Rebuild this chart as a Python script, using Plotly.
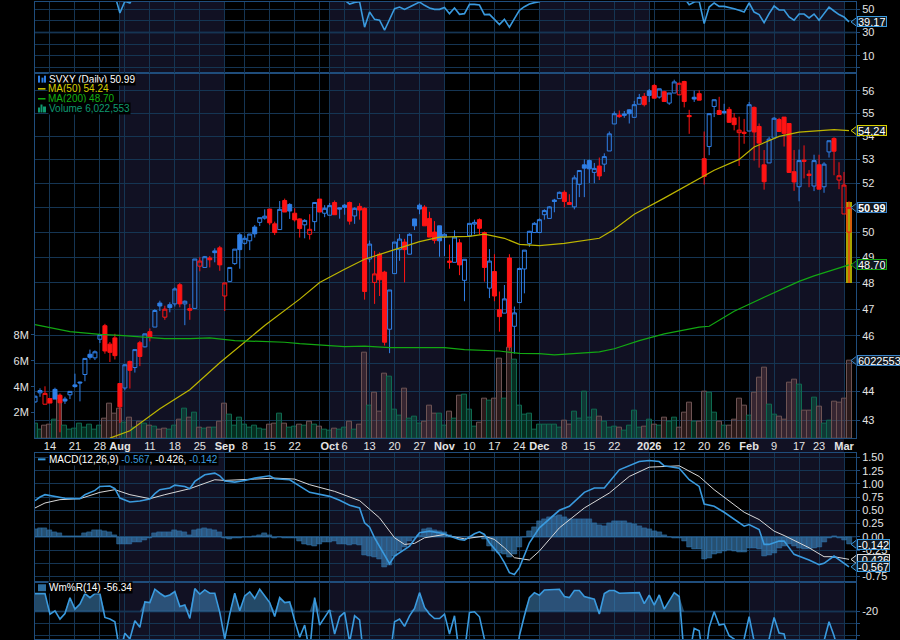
import numpy as np
import plotly.graph_objects as go

# bar index 0 = 9 Jul 2025, last bar = 3 Mar 2026
opens = [
    43.63, 43.95, 43.55, 43.75, 44.07, 43.86, 43.73, 43.88, 44.23, 44.33,
    44.60, 45.33, 45.20, 45.88, 46.38, 45.70, 45.93, 44.28, 44.12, 45.07,
    44.85, 45.75, 45.60, 46.16, 46.33, 47.23, 46.70, 47.17, 47.20, 47.93,
    47.20, 47.02, 47.03, 48.65, 48.60, 48.97, 49.25, 49.37, 47.50, 48.06,
    48.75, 49.89, 49.55, 49.65, 50.20, 50.39, 50.56, 50.93, 50.33, 50.10,
    51.28, 51.12, 50.76, 50.53, 50.29, 49.91, 50.42, 51.34, 50.76, 50.68,
    51.20, 50.98, 51.09, 51.20, 50.65, 51.04, 50.96, 48.93, 48.02, 49.12,
    48.42, 46.25, 48.36, 49.30, 49.60, 49.12, 50.53, 51.09, 51.01, 50.55,
    50.00, 50.25, 49.80, 48.85, 48.80, 49.57, 48.10, 49.85, 50.32, 50.50,
    49.98, 47.80, 48.44, 46.98, 46.85, 48.97, 46.36, 47.25, 48.54, 49.54,
    49.98, 49.98, 50.70, 50.55, 51.30, 51.36, 51.62, 51.20, 51.02, 51.95,
    52.77, 52.95, 52.45, 52.72, 52.80, 53.36, 54.53, 54.92, 54.97, 55.15,
    54.82, 55.40, 55.75, 56.00, 56.24, 55.72, 55.96, 55.45, 55.90, 55.82,
    56.42, 54.90, 55.71, 55.87, 53.03, 53.55, 55.30, 55.12, 55.08, 55.17,
    54.79, 54.15, 54.17, 54.22, 55.26, 54.42, 52.77, 52.85, 53.92, 54.72,
    54.83, 54.55, 52.48, 51.85, 52.97, 52.38, 51.88, 52.77, 51.85, 53.32,
    53.90, 52.13, 50.73, 50.00,
]
highs = [
    43.85, 44.11, 44.18, 43.75, 44.13, 43.93, 43.81, 44.00, 44.63, 44.35,
    45.18, 45.50, 45.47, 46.08, 46.45, 45.78, 46.08, 44.28, 44.97, 45.10,
    45.50, 45.82, 46.08, 46.28, 47.00, 47.32, 47.13, 47.26, 47.83, 48.00,
    47.33, 47.20, 48.93, 49.00, 49.05, 49.05, 49.35, 49.45, 48.00, 48.60,
    49.32, 49.96, 49.85, 49.92, 50.28, 50.58, 50.92, 50.93, 50.42, 51.26,
    51.36, 51.17, 50.96, 50.55, 50.52, 50.72, 51.20, 51.34, 51.09, 51.18,
    51.28, 51.00, 51.14, 51.24, 51.00, 51.17, 51.00, 49.66, 49.25, 49.19,
    48.47, 47.73, 49.60, 49.92, 49.73, 49.95, 50.53, 51.16, 51.09, 50.82,
    50.44, 50.25, 49.95, 49.50, 50.07, 49.72, 48.92, 50.35, 50.50, 50.55,
    50.02, 49.32, 49.12, 47.67, 47.92, 49.12, 47.10, 48.60, 49.28, 50.05,
    50.40, 50.55, 50.92, 51.05, 51.35, 51.65, 51.70, 51.54, 52.33, 52.55,
    53.00, 53.00, 52.85, 53.08, 53.26, 54.20, 55.08, 55.12, 55.10, 55.17,
    55.55, 55.86, 55.90, 56.08, 56.30, 56.09, 56.00, 55.90, 56.50, 56.36,
    56.45, 55.15, 56.00, 56.02, 54.20, 54.98, 55.60, 55.73, 55.42, 55.28,
    55.00, 54.85, 54.75, 55.50, 55.30, 54.55, 53.40, 53.97, 54.83, 54.80,
    54.83, 54.55, 53.40, 53.42, 53.60, 52.55, 53.20, 53.20, 52.88, 53.80,
    53.95, 52.88, 52.47, 51.25,
]
lows = [
    43.60, 43.81, 43.55, 43.59, 43.73, 42.58, 43.56, 43.73, 44.13, 43.65,
    44.36, 45.14, 45.12, 45.74, 45.35, 45.05, 45.14, 42.90, 44.04, 44.10,
    44.67, 44.90, 45.58, 45.80, 46.33, 46.93, 46.60, 46.88, 47.10, 47.07,
    46.40, 46.60, 47.03, 48.45, 48.60, 48.60, 48.80, 48.47, 46.93, 48.06,
    48.70, 48.55, 49.50, 49.28, 49.78, 50.24, 50.50, 50.28, 49.88, 50.10,
    50.81, 50.53, 50.42, 49.78, 49.75, 49.70, 50.04, 50.81, 50.60, 50.68,
    50.70, 50.54, 50.70, 50.30, 50.33, 50.50, 47.36, 48.80, 47.20, 47.50,
    45.65, 45.37, 48.36, 48.86, 48.02, 49.12, 50.08, 50.72, 50.25, 49.80,
    49.54, 49.02, 49.05, 48.55, 48.80, 48.30, 47.30, 49.85, 49.91, 49.91,
    48.05, 47.42, 47.30, 46.16, 46.85, 45.47, 45.35, 47.25, 47.60, 49.41,
    49.98, 49.98, 50.50, 50.55, 50.80, 51.36, 51.00, 51.10, 50.92, 51.42,
    51.42, 52.00, 52.00, 52.13, 52.47, 53.36, 54.53, 54.80, 54.80, 54.55,
    54.82, 55.40, 55.30, 55.50, 55.67, 55.65, 55.50, 55.37, 55.90, 55.80,
    55.26, 54.10, 55.50, 55.58, 51.94, 53.18, 54.83, 54.93, 54.95, 54.60,
    54.25, 52.72, 53.67, 54.22, 52.95, 52.65, 51.73, 52.85, 53.92, 54.20,
    53.55, 52.45, 51.68, 51.25, 52.20, 51.83, 51.67, 51.75, 51.60, 53.08,
    52.33, 51.75, 50.73, 48.00,
]
closes = [
    43.83, 44.03, 43.93, 43.59, 43.73, 43.60, 43.66, 44.00, 44.17, 44.30,
    45.18, 45.22, 45.42, 46.05, 45.45, 45.40, 45.28, 43.46, 44.95, 44.75,
    45.50, 45.25, 46.08, 45.97, 46.95, 47.12, 47.00, 47.06, 47.77, 47.20,
    47.30, 46.96, 48.93, 48.85, 49.02, 48.90, 49.18, 48.70, 48.00, 48.60,
    49.32, 49.30, 49.75, 49.92, 49.93, 50.58, 50.64, 50.37, 49.98, 50.92,
    50.81, 50.85, 50.49, 50.14, 50.47, 50.11, 51.20, 50.81, 50.96, 51.08,
    50.70, 50.93, 51.00, 50.44, 50.96, 50.89, 47.67, 49.52, 48.35, 48.12,
    45.77, 47.73, 49.60, 49.72, 49.30, 49.91, 50.25, 50.93, 50.25, 49.80,
    49.67, 49.65, 49.91, 48.80, 49.80, 48.70, 48.92, 50.35, 50.39, 50.15,
    48.60, 48.85, 47.50, 46.72, 47.39, 45.60, 46.86, 48.56, 49.28, 50.03,
    50.35, 50.50, 50.87, 51.02, 51.24, 51.62, 51.24, 51.12, 52.22, 52.53,
    52.63, 52.60, 52.62, 52.30, 53.12, 54.10, 54.98, 54.85, 54.91, 54.98,
    55.38, 55.70, 55.38, 55.79, 55.67, 56.09, 55.52, 55.90, 56.40, 56.34,
    55.52, 54.85, 55.63, 55.58, 52.28, 54.98, 55.60, 54.95, 55.03, 54.60,
    54.50, 54.26, 54.12, 55.38, 54.18, 53.70, 52.06, 53.87, 54.78, 54.20,
    54.12, 52.45, 52.05, 52.95, 52.92, 52.32, 52.95, 51.75, 52.80, 53.80,
    53.35, 52.31, 51.92, 50.99,
]
candle_dirs = (
    "bbrrbrbbbb" "bbbbrrrrbr" "brbrbbrbbr" "brbrbrbrrb" "bbbbbbbrrb"
    "rbrrbrbrbb" "rbbrbrrbrr" "rbbbrbbbrr" "rbbrbrbbbr" "rbrrbrbbbb"
    "bbbbbbrrbb" "bbbrbbbrbb" "bbrbrbrbbr" "rrbrrbbrbr" "rrrbrrrbbr"
    "rrrbrrbrbb" "rrrr"
)

volume_m = [
    1.17, 0.65, 0.96, 1.04, 1.42, 3.30, 0.96, 0.70, 0.73, 1.13,
    0.87, 1.04, 0.65, 0.96, 1.50, 2.65, 1.94, 2.30, 1.20, 1.60,
    0.85, 1.30, 1.13, 1.00, 0.90, 0.70, 0.78, 0.70, 0.96, 1.42,
    2.30, 1.60, 1.96, 0.87, 0.75, 0.87, 0.87, 1.30, 2.70, 1.83,
    0.96, 1.60, 1.04, 0.87, 0.96, 0.72, 0.65, 1.04, 1.13, 1.90,
    1.13, 0.80, 0.90, 1.10, 0.96, 1.27, 1.04, 0.88, 0.70, 0.57,
    0.73, 0.70, 0.80, 1.27, 0.65, 1.10, 6.60, 2.55, 3.50, 2.04,
    5.00, 4.80, 2.25, 1.73, 3.85, 1.50, 1.65, 1.17, 1.27, 2.50,
    1.90, 1.90, 0.96, 2.10, 1.50, 3.27, 3.35, 2.20, 0.88, 1.20,
    3.04, 2.90, 3.10, 6.17, 3.04, 7.00, 6.10, 2.50, 1.80, 1.94,
    0.65, 1.10, 1.10, 1.10, 1.04, 0.80, 1.35, 1.10, 2.04, 1.50,
    3.60, 1.57, 2.20, 1.68, 1.27, 0.83, 0.93, 0.83, 0.60, 1.00,
    2.14, 0.83, 0.93, 1.47, 1.06, 1.00, 1.60, 1.27, 1.60, 0.83,
    2.00, 2.75, 1.27, 1.27, 3.60, 3.53, 2.00, 1.27, 1.00, 1.00,
    1.45, 3.06, 2.53, 1.76, 3.53, 4.68, 5.45, 2.60, 1.83, 1.68,
    1.45, 4.30, 4.53, 4.14, 2.14, 2.14, 3.14, 2.45, 1.14, 1.37,
    2.83, 2.75, 3.06, 6.02,
]
volume_dirs = (
    "ggrrgrgggg" "ggggrrrrgr" "grgrgrrggr" "grgrgrgrrg" "gggggggrrg"
    "rggrgrgrgg" "rggrgrrgrr" "rgggrgggrr" "rggrgrgggr" "rgrrgrgggg"
    "ggggggrrgg" "gggrgggrgg" "ggrgrgrggr" "rrgrrggrgr" "rrrgrrrggr"
    "rrrgrrgrgg" "rrrr"
)

ma50_idx = [15, 19, 25, 31, 37, 42, 46, 53, 57, 62, 66, 72, 77, 81, 87, 90, 94, 97, 101,
            106, 113, 116, 120, 126, 133, 136, 141, 144, 149, 153, 160, 163]
ma50_val = [42.38, 42.63, 43.39, 44.06, 45.02, 45.77, 46.39, 47.38, 48.02, 48.53, 48.92,
            49.30, 49.62, 49.80, 49.83, 49.92, 49.75, 49.51, 49.46, 49.55, 49.75, 50.11,
            50.72, 51.38, 52.20, 52.54, 53.00, 53.53, 53.99, 54.17, 54.28, 54.24]
ma200_idx = [0, 7, 13, 17, 26, 31, 35, 40, 50, 53, 62, 66, 71, 82, 86, 93, 97, 101, 104,
             108, 113, 116, 121, 126, 133, 135, 140, 146, 153, 156, 163]
ma200_val = [46.42, 46.16, 46.06, 46.02, 45.90, 45.90, 45.93, 45.83, 45.77, 45.72, 45.61,
             45.63, 45.57, 45.57, 45.50, 45.45, 45.36, 45.35, 45.31, 45.35, 45.42, 45.53,
             45.83, 46.08, 46.33, 46.36, 46.92, 47.45, 48.06, 48.27, 48.70]

macd_idx = [0, 1, 2, 4, 6, 9, 10, 12, 13, 15, 16, 17, 19, 21, 23, 24, 25, 27, 28, 30, 31, 32,
            34, 36, 37, 38, 40, 42, 44, 47, 48, 51, 53, 55, 59, 61, 63, 65, 66, 67, 68, 70,
            71, 72, 75, 77, 79, 82, 83, 85, 86, 88, 89, 90, 91, 93, 94, 95, 96, 97, 99, 101,
            105, 107, 110, 112, 114, 117, 121, 123, 125, 126, 129, 131, 133, 134, 136, 138,
            142, 143, 145, 146, 147, 149, 150, 152, 155, 157, 158, 160, 161, 163]
macd_val = [0.683, 0.752, 0.796, 0.764, 0.727, 0.720, 0.796, 0.877, 0.952, 0.959, 0.909, 0.733,
            0.658, 0.677, 0.714, 0.815, 0.890, 0.921, 0.977, 0.952, 0.909, 1.046, 1.172, 1.203,
            1.153, 1.053, 1.034, 1.065, 1.109, 1.153, 1.096, 1.078, 0.952, 0.840, 0.764, 0.689,
            0.595, 0.545, 0.263, 0.182, -0.019, -0.363, -0.508, -0.363, -0.175, 0.075, 0.107,
            0.056, 0.013, -0.050, -0.063, 0.056, 0.094, 0.044, -0.113, -0.332, -0.489, -0.677,
            -0.714, -0.583, -0.113, 0.169, 0.501, 0.576, 0.840, 0.921, 0.921, 1.266, 1.422,
            1.441, 1.422, 1.341, 1.297, 1.078, 0.952, 0.620, 0.576, 0.464, 0.200, 0.232, 0.138,
            -0.144, -0.144, -0.081, -0.081, -0.332, -0.439, -0.526, -0.501, -0.363, -0.426, -0.567]
signal_idx = [0, 2, 5, 9, 13, 16, 19, 23, 26, 31, 36, 38, 44, 48, 52, 55, 60, 65, 69, 72, 74, 76,
              78, 82, 83, 86, 90, 92, 94, 96, 99, 101, 105, 110, 115, 119, 123, 129, 133, 136,
              142, 145, 148, 150, 155, 158, 160, 163]
signal_val = [0.545, 0.639, 0.702, 0.720, 0.840, 0.890, 0.796, 0.720, 0.796, 0.909, 1.078, 1.065,
              1.090, 1.109, 1.090, 0.984, 0.858, 0.683, 0.357, -0.019, -0.144, -0.125, -0.019,
              0.044, 0.013, -0.038, 0.013, -0.050, -0.207, -0.395, -0.439, -0.269, 0.169, 0.545,
              0.827, 1.140, 1.316, 1.341, 1.140, 0.890, 0.464, 0.326, 0.107, 0.025, -0.207,
              -0.376, -0.376, -0.426]
macd_hist = [
    0.14, 0.16, 0.16, 0.13, 0.09, 0.06, 0.02, 0.02, 0.02, 0.02,
    0.06, 0.09, 0.12, 0.13, 0.11, 0.09, 0.04, -0.13, -0.13, -0.14,
    -0.11, -0.10, -0.06, -0.03, 0.06, 0.09, 0.09, 0.09, 0.13, 0.11,
    0.08, 0.03, 0.13, 0.15, 0.16, 0.14, 0.13, 0.08, -0.02, -0.04,
    -0.03, -0.02, -0.01, 0.00, 0.02, 0.04, 0.06, 0.03, -0.02, -0.01,
    -0.02, -0.02, -0.02, -0.08, -0.13, -0.15, -0.18, -0.13, -0.11, -0.11,
    -0.09, -0.13, -0.14, -0.16, -0.14, -0.16, -0.34, -0.36, -0.39, -0.43,
    -0.58, -0.54, -0.36, -0.27, -0.19, -0.08, -0.02, 0.04, 0.14, 0.16,
    0.13, 0.10, 0.08, 0.04, 0.00, 0.00, 0.00, 0.00, 0.00, 0.00,
    -0.05, -0.18, -0.27, -0.30, -0.33, -0.39, -0.33, -0.19, 0.00, 0.11,
    0.19, 0.29, 0.34, 0.38, 0.39, 0.40, 0.38, 0.33, 0.33, 0.34,
    0.34, 0.33, 0.26, 0.22, 0.20, 0.25, 0.29, 0.30, 0.29, 0.25,
    0.23, 0.21, 0.17, 0.14, 0.11, 0.08, 0.03, 0.00, -0.02, -0.03,
    -0.08, -0.19, -0.23, -0.24, -0.43, -0.41, -0.33, -0.30, -0.27, -0.26,
    -0.27, -0.29, -0.29, -0.21, -0.21, -0.24, -0.36, -0.35, -0.30, -0.21,
    -0.18, -0.14, -0.18, -0.21, -0.23, -0.23, -0.21, -0.19, -0.11, -0.02,
    0.02, -0.03, -0.07, -0.142,
]

williams = [
    -5.3, -5.3, -5.3, -22.2, -19.5, -26.3, -21.7, -8.8, -18.1, -14.0,
    -5.3, -8.6, -5.3, -5.3, -24.9, -26.3, -28.5, -53.6, -38.0, -42.7,
    -27.7, -33.1, -12.1, -12.7, -1.7, -5.0, -7.7, -6.4, -3.6, -15.9,
    -14.6, -25.8, -1.2, -5.8, -2.3, -5.0, -5.0, -20.8, -42.7, -22.2,
    -5.0, -19.5, -7.2, -3.9, -9.4, -1.7, -7.2, -12.7, -24.1, -8.6,
    -12.7, -12.1, -27.7, -41.3, -31.2, -53.6, -8.6, -31.2, -24.9, -18.7,
    -38.6, -24.4, -20.8, -45.4, -23.6, -26.9, -64.6, -70.0, -80.0, -85.0,
    -95.0, -60.0, -28.5, -26.3, -32.3, -23.6, -17.6, -4.5, -16.7, -22.2,
    -25.8, -25.8, -22.2, -38.6, -23.6, -56.4, -53.6, -20.8, -20.3, -24.4,
    -53.6, -70.0, -80.0, -90.0, -95.0, -90.0, -70.0, -40.0, -23.6, -8.6,
    -4.5, -6.6, -2.3, -2.3, -2.0, -1.7, -7.7, -8.6, -2.8, -2.8,
    -7.7, -8.6, -9.9, -22.2, -5.3, -2.8, -2.8, -5.0, -5.0, -4.5,
    -5.0, -4.5, -13.5, -6.6, -14.8, -6.4, -18.1, -11.3, -4.5, -7.7,
    -56.4, -56.4, -34.0, -35.9, -64.6, -33.1, -20.3, -31.2, -30.4, -40.0,
    -42.7, -53.6, -42.7, -24.4, -42.7, -64.6, -64.6, -42.7, -24.9, -37.8,
    -38.6, -64.6, -75.0, -80.0, -75.0, -70.0, -70.0, -60.0, -45.0, -28.5,
    -40.0, -64.6, -70.0, -56.34,
]

# RSI is only visible in the three stretches where it dips into the cropped top panel
rsi_idx = [16, 17, 18, 19, 20, None,
           62, 63, 64, 65, 66, 67, 68, 69, 70, 71, 72, 73, 74, 75, 76, 77, 78, 79, 80, 81, 82,
           83, 84, 85, 86, 87, 88, 89, 90, 91, 92, 93, 94, 95, 96, 97, 98, 99, 100, 101, 102, None,
           130, 131, 132, 133, 134, 135, 136, 137, 138, 139, 140, 141, 142, 143, 144, 145, 146,
           147, 148, 149, 150, 151, 152, 153, 154, 155, 156, 157, 158, 159, 160, 161, 162, 163]
rsi_val = [62, 46.9, 57.0, 55.5, 62, None,
           58, 54.6, 56, 56.5, 34.6, 47.7, 41.4, 40.6, 32, 42, 50.6, 52, 50, 52, 54, 56.3, 53.5,
           51.2, 50, 50, 51.7, 46.3, 51.2, 45.7, 46.3, 54.3, 54.3, 53.7, 45.5, 45.7, 41.4, 36.9,
           41.4, 34.6, 42, 49.2, 52.3, 54.6, 55.8, 56.5, 60, None,
           60, 54, 56.3, 57, 37.7, 52, 55.5, 52.6, 52.6, 51.7, 50.6, 49.2, 47.7, 55.5, 47.7, 45.5,
           38.6, 46.3, 52.9, 49.5, 49.5, 43.4, 40.6, 46, 46, 42.6, 46, 40.6, 46.3, 52, 48.6, 45.5,
           43.4, 39.17]

grid_idx = [3, 8, 13, 17, 18, 23, 28, 33, 38, 42, 47, 52, 57, 59, 62, 67, 72, 77, 82, 87, 92, 97,
            101, 106, 111, 116, 120, 123, 124, 129, 134, 138, 143, 148, 153, 157, 162]
grid_labels = ["14", "21", "28", "<b>Aug</b>", "", "11", "18", "25", "<b>Sep</b>", "8", "15", "22",
               "", "<b>Oct</b>", "6", "13", "20", "27", "<b>Nov</b>", "10", "17", "24", "<b>Dec</b>",
               "8", "15", "22", "", "<b>2026</b>", "", "12", "20", "26", "<b>Feb</b>", "9", "17", "23",
               "<b>Mar</b>"]
month_bands = [(17, 38), (59, 82), (101, 123), (143, 162)]

price_ticks = [43, 44, 45, 46, 47, 48, 49, 50, 51, 52, 53, 54, 55, 56]
# 45 and 51 sit fully behind the value flags, so they keep their grid line only
price_labels = ["43", "44", "", "46", "47", "48", "49", "50", "", "52", "53", "54", "55", "56"]
volume_ticks = [2, 4, 6, 8]
macd_ticks = [1.5, 1.25, 1.0, 0.75, 0.5, 0.25, 0.0, -0.25, -0.5, -0.75]
macd_labels = ["1.50", "1.25", "1.00", "0.75", "0.50", "0.25", "0.00", "-0.25", "", "-0.75"]

BLUE = "#2f7fe6"
RED = "#ff1414"
LINE_BLUE = "#3a9ade"
GRID = "#153553"
GRID_HI = "#1f4d7c"
TEXT = "#e4e4e4"
FONT = "Liberation Sans"

W, H = 900, 640
LEFT, RIGHT = 34.5, 856.5
X_END = (RIGHT - LEFT) / 5


def paper_x(px):
    return (px - LEFT) / (RIGHT - LEFT)


def paper_y(py):
    return 1 - py / H


x = np.arange(len(closes))
o, h, l, c = map(np.array, (opens, highs, lows, closes))
dirs = np.array(list(candle_dirs))
hollow = c > o

fig = go.Figure()

# volume underneath the candles
fig.add_trace(go.Bar(
    x=x, y=[v * 1e6 for v in volume_m], width=1, xaxis="x", yaxis="y",
    marker=dict(
        color=["rgba(130,80,80,0.33)" if d == "r" else "rgba(15,120,85,0.38)" for d in volume_dirs],
        line=dict(color=["#6e5454" if d == "r" else "#0f6a50" for d in volume_dirs], width=1),
    ),
    hoverinfo="skip",
))

# highlight of the last bar's range
fig.add_trace(go.Bar(
    x=[x[-1]], y=[highs[-1] - lows[-1]], base=[lows[-1]], width=1.3, xaxis="x", yaxis="y2",
    marker=dict(color="#a8a400", line_width=0), hoverinfo="skip",
))

for color, is_hollow in ((BLUE, True), (BLUE, False), (RED, True), (RED, False)):
    flag = "b" if color == BLUE else "r"
    mask = (dirs == flag) & (hollow == is_hollow)
    fill = "rgba(0,0,0,0)" if is_hollow else color
    style = dict(line=dict(color=color, width=1), fillcolor=fill)
    fig.add_trace(go.Candlestick(
        x=x[mask], open=o[mask], high=h[mask], low=l[mask], close=c[mask],
        xaxis="x", yaxis="y2", increasing=style, decreasing=style, hoverinfo="skip",
    ))

fig.add_trace(go.Scatter(x=ma50_idx, y=ma50_val, mode="lines", xaxis="x", yaxis="y2",
                         line=dict(color="#bdb500", width=1.2), hoverinfo="skip"))
fig.add_trace(go.Scatter(x=ma200_idx, y=ma200_val, mode="lines", xaxis="x", yaxis="y2",
                         line=dict(color="#12a812", width=1.2), hoverinfo="skip"))

# MACD
fig.add_trace(go.Bar(x=x, y=macd_hist, width=1, xaxis="x2", yaxis="y3",
                     marker=dict(color="rgba(70,145,205,0.55)", line=dict(color="#2d6ea6", width=0.6)),
                     hoverinfo="skip"))
fig.add_trace(go.Scatter(x=signal_idx, y=signal_val, mode="lines", xaxis="x2", yaxis="y3",
                         line=dict(color="#d8d8d8", width=1), hoverinfo="skip"))
fig.add_trace(go.Scatter(x=macd_idx, y=macd_val, mode="lines", xaxis="x2", yaxis="y3",
                         line=dict(color=LINE_BLUE, width=1.6), hoverinfo="skip"))

# Williams %R, shaded above -20
fig.add_trace(go.Scatter(x=x, y=[-20] * len(x), mode="lines", xaxis="x3", yaxis="y4",
                         line=dict(width=0, color="rgba(0,0,0,0)"), hoverinfo="skip"))
fig.add_trace(go.Scatter(x=x, y=np.maximum(williams, -20), mode="lines", xaxis="x3", yaxis="y4",
                         fill="tonexty", fillcolor="rgba(70,145,205,0.5)",
                         line=dict(width=0, color="rgba(0,0,0,0)"), hoverinfo="skip"))
fig.add_trace(go.Scatter(x=x, y=williams, mode="lines", xaxis="x3", yaxis="y4",
                         line=dict(color=LINE_BLUE, width=1.6), hoverinfo="skip"))

# RSI, top of it is cut off by the picture
fig.add_trace(go.Scatter(x=rsi_idx, y=rsi_val, mode="lines", xaxis="x4", yaxis="y5",
                         line=dict(color=LINE_BLUE, width=1.6), hoverinfo="skip"))

axis_x = dict(range=[0, X_END], tickmode="array", tickvals=grid_idx, showgrid=True, gridcolor=GRID,
              gridwidth=1, zeroline=False, showline=True, linecolor=GRID_HI, mirror=True,
              ticks="", fixedrange=True)
axis_y = dict(showgrid=True, gridcolor=GRID, gridwidth=1, zeroline=False, showline=True,
              linecolor=GRID_HI, mirror=True, ticks="outside", ticklen=3, tickcolor=GRID_HI,
              tickfont=dict(color=TEXT, size=11, family=FONT), fixedrange=True)

fig.update_layout(
    width=W, height=H, margin=dict(l=LEFT, r=W - RIGHT, t=0, b=0), autosize=False,
    paper_bgcolor="black", plot_bgcolor="black", showlegend=False, hovermode=False,
    barmode="overlay", boxgap=0.2, boxgroupgap=0, bargap=0,
    font=dict(family=FONT, size=10, color=TEXT),
    xaxis=dict(axis_x, anchor="y", ticktext=grid_labels, showticklabels=True, tickangle=0,
               ticklabelstandoff=-3,
               tickfont=dict(color=TEXT, size=11, family=FONT), rangeslider=dict(visible=False)),
    xaxis2=dict(axis_x, anchor="y3", matches="x", showticklabels=False),
    xaxis3=dict(axis_x, anchor="y4", matches="x", showticklabels=False),
    xaxis4=dict(axis_x, anchor="y5", matches="x", showticklabels=False),
    yaxis=dict(axis_y, domain=[paper_y(438.5), paper_y(71)], range=[0, 28.27e6], side="left",
               tickmode="array", tickvals=[v * 1e6 for v in volume_ticks],
               ticktext=[f"{v}M" for v in volume_ticks], showgrid=False),
    yaxis2=dict(axis_y, overlaying="y", side="right", type="log", anchor="x",
                range=[float(np.log10(42.37)), float(np.log10(56.82))], tickmode="array",
                tickvals=price_ticks, ticktext=price_labels),
    yaxis3=dict(axis_y, domain=[paper_y(582.3), paper_y(453.3)], range=[-0.846, 1.58], side="right",
                tickmode="array", tickvals=macd_ticks, ticktext=macd_labels),
    yaxis4=dict(axis_y, domain=[0, paper_y(582.3)], range=[-42.7, 4.6], side="right",
                tickmode="array", tickvals=[-20, -30, -40], ticktext=["-20", "", ""]),
    yaxis5=dict(axis_y, domain=[paper_y(71), 1], range=[-4.6, 56.35], side="right",
                tickmode="array", tickvals=[0, 10, 20, 30, 40, 50],
                ticktext=["", "10", "", "30", "", "50"]),
)

shapes = []
for start, end in month_bands:
    shapes.append(dict(type="rect", xref="x", yref="paper", x0=start, x1=end, y0=0, y1=1,
                       fillcolor="#111123", line_width=0, layer="below"))
# brighter reference lines
shapes.append(dict(type="line", xref="paper", yref="y5", x0=0, x1=1, y0=30, y1=30,
                   line=dict(color=GRID_HI, width=1.5), layer="below"))
shapes.append(dict(type="line", xref="paper", yref="y4", x0=0, x1=1, y0=-20, y1=-20,
                   line=dict(color=GRID_HI, width=1.5), layer="below"))
shapes.append(dict(type="line", xref="paper", yref="y3", x0=0, x1=1, y0=0, y1=0,
                   line=dict(color=GRID_HI, width=1), layer="below"))

annotations = []


def add_text(px, py, text, color=TEXT):
    annotations.append(dict(
        xref="paper", yref="paper", x=paper_x(px), y=paper_y(py), xanchor="left", yanchor="middle",
        text=text, showarrow=False, bgcolor="black", borderpad=0,
        font=dict(color=color, size=10, family=FONT),
    ))


def glyph(px0, py0, px1, py1, color):
    shapes.append(dict(type="rect", xref="paper", yref="paper", x0=paper_x(px0), x1=paper_x(px1),
                       y0=paper_y(py0), y1=paper_y(py1), fillcolor=color, line_width=0, layer="above"))


add_text(47.5, 77.8, "SVXY (Daily) 50.99", "#ffffff")
add_text(46.5, 87.4, "MA(50) 54.24", "#d8d000")
add_text(46.5, 97.4, "MA(200) 48.70", "#12b012")
add_text(47.5, 107.5, "Volume 6,022,553", "#0f9a70")
glyph(37.5, 74, 39.5, 81, BLUE)
glyph(41, 76, 43, 81, BLUE)
glyph(43.5, 74, 45.5, 81, BLUE)
glyph(37.5, 86.5, 45, 88, "#d8d000")
glyph(37.5, 96.5, 45, 98, "#12b012")
glyph(37.5, 106, 39.5, 111, "#0f9a70")
glyph(40, 103, 42, 111, "#0f9a70")
glyph(42.5, 105, 45.5, 111, "#0f9a70")

add_text(47.5, 459.8,
         f'MACD(12,26,9) <span style="color:{LINE_BLUE}">-0.567</span>, -0.426,'
         f' <span style="color:{LINE_BLUE}">-0.142</span>', "#ffffff")
glyph(37.5, 458.5, 45, 460.5, LINE_BLUE)
add_text(48, 588.5, "Wm%R(14) -56.34", "#ffffff")
glyph(37.5, 585, 45.5, 592, "#2f6d9e")


def add_tag(value, label, color, x_ax, y_ax, log_axis=False, bold=False):
    # flag on the right edge pointing at the last value
    fig.add_trace(go.Scatter(
        x=[X_END - 0.2], y=[value], mode="markers", xaxis=x_ax, yaxis=y_ax, cliponaxis=False,
        marker=dict(symbol="triangle-left", size=8, color="#101820", line=dict(color=color, width=1)),
        hoverinfo="skip",
    ))
    y_pos = float(np.log10(value)) if log_axis else value
    annotations.append(dict(
        xref="paper", yref=y_ax, x=paper_x(858), y=y_pos, xanchor="left", yanchor="middle",
        text=f"<b>{label}</b>" if bold else label, showarrow=False, bgcolor="#101820",
        bordercolor=color, borderwidth=1, borderpad=0, height=9, align="center",
        font=dict(color="#ffffff", size=11, family=FONT),
    ))


add_tag(54.24, "54.24", "#d8d000", "x", "y2", log_axis=True)
add_tag(48.70, "48.70", "#12a812", "x", "y2", log_axis=True)
add_tag(50.99, "50.99", "#3a84c8", "x", "y2", log_axis=True, bold=True)
add_tag(6022553, "6022553", "#3a84c8", "x", "y")
add_tag(-0.142, "-0.142", "#3a9ade", "x2", "y3")
add_tag(-0.426, "-0.426", "#d8d8d8", "x2", "y3")
add_tag(-0.567, "-0.567", "#3a9ade", "x2", "y3")
add_tag(39.17, "39.17", "#3a9ade", "x4", "y5")

fig.update_layout(shapes=shapes, annotations=annotations)
# page default has an 8px body margin, the chart has to sit in the corner
fig.write_html("out.html", config={"displayModeBar": False},
               post_script="document.body.style.margin='0';document.body.style.background='black';")
